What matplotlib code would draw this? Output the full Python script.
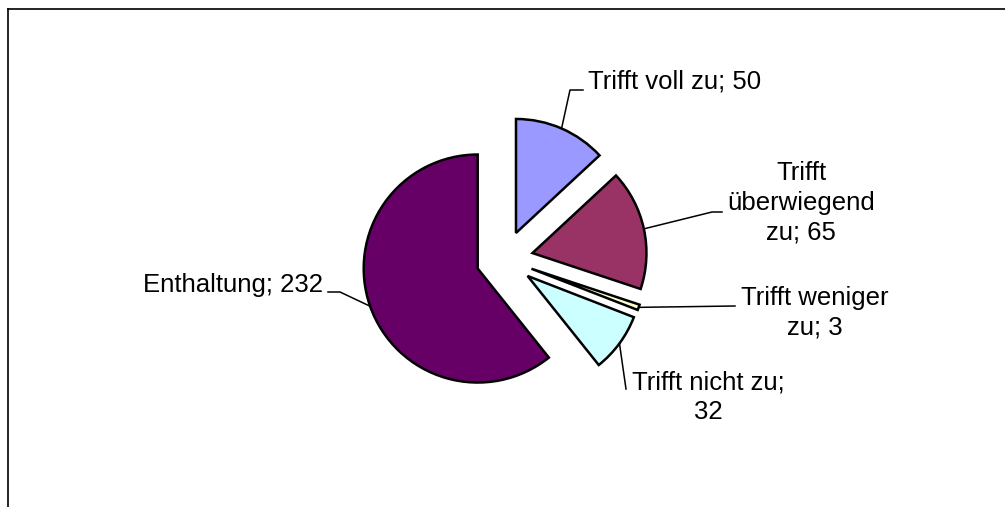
import numpy as np
import matplotlib.pyplot as plt

labels = ['Trifft voll zu', 'Trifft überwiegend zu', 'Trifft weniger zu', 'Trifft nicht zu', 'Enthaltung']
values = [50, 65, 3, 32, 232]
colors = ['#9999FF', '#993366', '#FFFFCC', '#CCFFFF', '#660066']

W, H = 1005, 507
fig = plt.figure(figsize=(W / 100, H / 100), dpi=100)
ax = fig.add_axes([0, 0, 1, 1])
plt.rcParams['font.family'] = ['Liberation Sans', 'DejaVu Sans']

# pixel coordinates, y pointing down -> clockwise from 12 o'clock
# (explode is an absolute offset, not a fraction of radius)
wedges, _ = ax.pie(values, colors=colors, explode=[28.5] * len(values),
                   radius=114, center=(504.6, 259.1),
                   startangle=-90, counterclock=True,
                   wedgeprops=dict(edgecolor='black', linewidth=1.8))
ax.set_xlim(0, W)
ax.set_ylim(H, 0)
ax.set_aspect('equal')
ax.axis('off')

# label text, where it sits, and leader-line bend points
texts = ['Trifft voll zu; 50', 'Trifft\nüberwiegend\nzu; 65', 'Trifft weniger\nzu; 3',
         'Trifft nicht zu;\n32', 'Enthaltung; 232']
text_pos = [(588, 81), (801, 203), (815, 313), (708, 397), (323, 285)]
text_ha = ['left', 'center', 'center', 'center', 'right']
bends = [[(570, 90), (583, 90)], [(712, 212), (722, 212)], [(735, 306)],
         [(626, 389)], [(340, 292), (328, 292)]]

for w, t, pos, ha, bend in zip(wedges, texts, text_pos, text_ha, bends):
    mid = np.deg2rad((w.theta1 + w.theta2) / 2)
    x0 = w.center[0] + w.r * np.cos(mid)
    y0 = w.center[1] + w.r * np.sin(mid)
    xs = [x0] + [b[0] for b in bend]
    ys = [y0] + [b[1] for b in bend]
    ax.plot(xs, ys, color='black', lw=1.1)
    ax.text(pos[0], pos[1], t, ha=ha, va='center', multialignment='center',
            fontsize=18.5, linespacing=1.3, color='black')

# chart frame (top and left edges visible)
ax.plot([7.5, W], [8.5, 8.5], color='black', lw=1.2, clip_on=False)
ax.plot([7.5, 7.5], [8.5, H], color='black', lw=1.2, clip_on=False)

plt.savefig('out.png', dpi=100)
